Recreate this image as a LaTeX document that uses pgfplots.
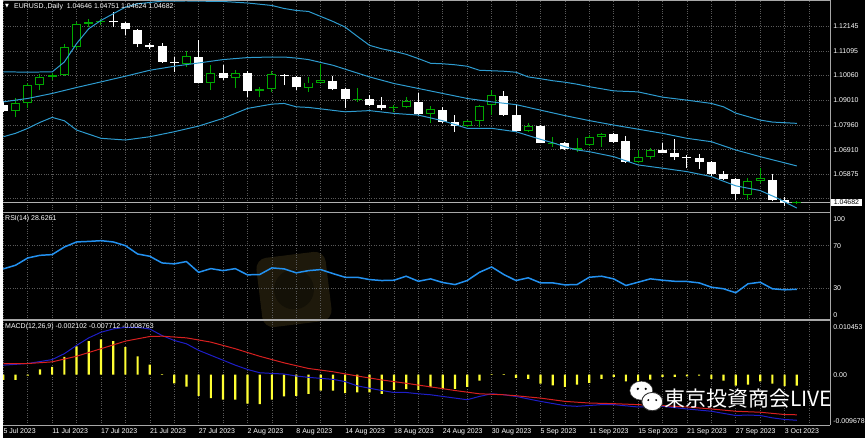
\documentclass[border=0pt]{standalone}
\usepackage{pgfplots}
\pgfplotsset{compat=1.18}
\usepackage{pgfplotstable}
\usepackage{fontspec}
\setmainfont{Liberation Sans}
\newfontfamily\dejavu{DejaVu Sans}
\newfontfamily\cjk{Noto Sans CJK JP}

\definecolor{gridc}{HTML}{5A5A5A}
\definecolor{sepc}{HTML}{A8A8A8}
\definecolor{bullc}{HTML}{00A800}
\definecolor{bandc}{HTML}{2E9CD0}
\definecolor{rsic}{HTML}{2391F0}
\definecolor{macdc}{HTML}{1E1EC8}
\definecolor{sigc}{HTML}{D82020}
\definecolor{histc}{HTML}{FFFF33}
\definecolor{wmc}{HTML}{1E190B}
\definecolor{wmd}{HTML}{141107}

\pgfplotstableread{
i o h l c
1 1.08545 1.09093 1.08292 1.08895
2 1.08895 1.09726 1.08671 1.09642
3 1.09642 1.10106 1.09431 1.09992
4 1.09992 1.10148 1.09853 1.10064
5 1.10064 1.11372 1.10043 1.11258
6 1.11258 1.12313 1.11191 1.12246
7 1.12246 1.12457 1.12102 1.12301
8 1.12301 1.12457 1.12174 1.12356
15 1.10558 1.11090 1.10414 1.10866
17 1.09756 1.10486 1.09431 1.10161
19 1.09967 1.10275 1.09503 1.10178
21 1.09389 1.09570 1.09123 1.09473
22 1.09473 1.10233 1.09359 1.10106
25 1.09528 1.09992 1.09359 1.09756
26 1.09756 1.10558 1.09714 1.09853
29 1.09009 1.09503 1.08937 1.09051
32 1.08659 1.08798 1.08515 1.08701
33 1.08701 1.09148 1.08659 1.08967
35 1.08418 1.08756 1.08026 1.08617
38 1.07925 1.08165 1.07870 1.08136
39 1.08136 1.08798 1.07882 1.08756
40 1.08798 1.09431 1.08376 1.09220
43 1.07714 1.08051 1.07646 1.07912
45 1.07182 1.07460 1.07038 1.07207
47 1.06912 1.07393 1.06827 1.06971
48 1.07110 1.07532 1.07068 1.07460
49 1.07460 1.07629 1.07038 1.07574
52 1.06380 1.06899 1.06338 1.06591
53 1.06591 1.06971 1.06507 1.06899
61 1.05000 1.05705 1.04789 1.05604
62 1.05604 1.06127 1.05506 1.05705
65 1.04646 1.04751 1.04624 1.04682
}\bull

\pgfplotstableread{
i o h l c
0 1.08798 1.08967 1.08503 1.08545
9 1.12356 1.12735 1.12102 1.12301
10 1.12288 1.12313 1.11752 1.12005
11 1.11993 1.12035 1.11258 1.11372
12 1.11360 1.11444 1.11191 1.11258
13 1.11288 1.11444 1.10600 1.10625
14 1.10625 1.10836 1.10203 1.10583
16 1.10836 1.11541 1.09714 1.09756
18 1.10161 1.10486 1.09853 1.09967
20 1.10178 1.10233 1.09123 1.09402
23 1.10094 1.10136 1.09642 1.10022
24 1.09992 1.10022 1.09431 1.09545
27 1.09824 1.10022 1.09431 1.09473
28 1.09461 1.09515 1.08659 1.09039
30 1.09039 1.09220 1.08756 1.08798
31 1.08798 1.09148 1.08587 1.08659
34 1.08937 1.09292 1.08376 1.08418
36 1.08587 1.08726 1.08026 1.08093
37 1.08068 1.08376 1.07671 1.07925
41 1.09191 1.09389 1.08355 1.08376
42 1.08376 1.08840 1.07671 1.07714
44 1.07912 1.07954 1.07182 1.07207
46 1.07207 1.07237 1.06899 1.06929
50 1.07562 1.07604 1.07182 1.07249
51 1.07279 1.07490 1.06338 1.06380
54 1.06899 1.07182 1.06760 1.06785
55 1.06760 1.07351 1.06477 1.06616
56 1.06616 1.06688 1.06127 1.06574
57 1.06549 1.06730 1.06085 1.06405
58 1.06380 1.06414 1.05747 1.05886
59 1.05886 1.06026 1.05633 1.05675
60 1.05675 1.05696 1.04789 1.05042
63 1.05633 1.05886 1.04717 1.04760
64 1.04760 1.04928 1.04506 1.04646
}\bear

\pgfplotstableread{
i rsi
0 47.95
1 51.4
2 58.3
3 60.8
4 61.5
5 68.7
6 73.5
7 74.0
8 74.7
9 73.5
10 70.0
11 62.1
12 59.9
13 53.6
14 52.7
15 54.9
16 44.7
17 48.2
18 46.3
19 48.2
20 42.3
21 42.6
22 48.9
23 47.95
24 44.2
25 46.3
26 47.3
27 43.5
28 40.0
29 40.0
30 37.8
31 36.9
32 37.2
33 41.0
34 36.2
35 38.5
36 35.0
37 33.1
38 36.9
39 44.7
40 49.8
41 42.6
42 36.9
43 39.5
44 34.7
45 34.7
46 32.8
47 33.1
48 40.0
49 41.0
50 38.5
51 32.2
52 35.3
53 38.5
54 37.2
55 36.2
56 36.0
57 34.7
58 30.6
59 29.1
60 25.3
61 33.8
62 35.3
63 29.1
64 28.1
65 28.63
}\rsi

\pgfplotstableread{
i hist
0 -0.00101
1 -0.00101
2 -0.0002
3 0.00101
4 0.00152
5 0.00342
6 0.00545
7 0.00646
8 0.00678
9 0.00646
10 0.00532
11 0.00355
12 0.00196
13 0.0001
14 -0.00165
15 -0.00228
16 -0.00405
17 -0.0045
18 -0.00481
19 -0.00481
20 -0.00557
21 -0.00564
22 -0.00481
23 -0.00418
24 -0.00405
25 -0.00367
26 -0.00304
27 -0.00304
28 -0.00355
29 -0.00342
30 -0.00342
31 -0.00367
32 -0.00291
33 -0.00279
34 -0.00291
35 -0.00238
36 -0.00272
37 -0.00272
38 -0.00234
39 -0.00114
40 0.00013
41 0.00013
42 -0.00063
43 -0.00082
44 -0.00171
45 -0.00203
46 -0.00234
47 -0.0019
48 -0.00158
49 -0.00082
50 -0.00044
51 -0.00127
52 -0.00127
53 -0.00095
54 -0.00044
55 -0.00044
56 -0.00032
57 -0.00019
58 -0.00082
59 -0.00114
60 -0.00209
61 -0.0019
62 -0.00127
63 -0.00171
64 -0.00222
65 -0.002102
}\hist

\pgfplotsset{
  panel/.style={scale only axis, width=830pt,
    xmin=-0.0245, xmax=67.73,
    axis line style={draw=none}, major tick length=0pt, tick style={draw=none},
    xtick={0,2,...,66}, xticklabels={},
    scaled y ticks=false, scaled x ticks=false,
    grid=major, grid style={gridc, dotted, line width=0.6pt},
    ticklabel style={font=\fontsize{7}{8}\selectfont, text=white},
    yticklabel pos=right,
    yticklabel style={anchor=west, inner sep=0pt, xshift=3pt},
  },
  wick/.style={draw=none, mark=none, forget plot,
    error bars/.cd, y dir=plus, y explicit, error mark=none,
    error bar style={draw=#1, line width=1pt}},
  body/.style 2 args={draw=none, mark=none, forget plot,
    error bars/.cd, y dir=plus, y explicit, error mark=none,
    error bar style={draw=#1, line width=#2}},
}

\begin{document}
\begin{tikzpicture}[x=1pt,y=1pt]
\fill[black] (0,0) rectangle (865,439);
\begin{scope}[rotate around={7:(292,149)}]
\fill[wmc, rounded corners=11pt] (257,114) rectangle (327,184);
\fill[wmd] (292,149) circle (20);
\end{scope}

% ---------------- main price panel ----------------
\begin{axis}[panel, at={(0pt,226.5pt)}, anchor=south west, height=212.5pt, ymin=1.042615, ymax=1.13229,
  ytick={1.04835,1.05875,1.06910,1.07960,1.09010,1.10060,1.11095,1.12145},
  yticklabels={,1.05875,1.06910,1.07960,1.09010,1.10060,1.11095,1.12145},
  extra y ticks={1.04682}, extra y tick labels={1.04682},
  extra y tick style={grid=none, yticklabel style={fill=white, text=black, inner xsep=2.5pt, inner ysep=1.2pt, xshift=-2pt}}]
\addplot[gray!60, line width=0.6pt, forget plot] coordinates {(-1,1.04682) (70,1.04682)};
% wicks
\addplot[wick=bullc] table[x=i, y=l, y error expr=\thisrow{h}-\thisrow{l}] {\bull};
\addplot[wick=white] table[x=i, y=l, y error expr=\thisrow{h}-\thisrow{l}] {\bear};
% bodies
\addplot[body={bullc}{9pt}] table[x=i, y=o, y error expr=\thisrow{c}-\thisrow{o}] {\bull};
\addplot[body={black}{7pt}] table[x=i, y expr=\thisrow{o}+0.00042, y error expr={max(\thisrow{c}-\thisrow{o}-0.00084,0)}] {\bull};
\addplot[body={white}{9pt}] table[x=i, y=c, y error expr=\thisrow{o}-\thisrow{c}] {\bear};
% Bollinger bands
\addplot[bandc, line width=1pt, forget plot] coordinates {
(0,1.10203) (2,1.10199) (4,1.10203) (5,1.10625) (6,1.11402) (7,1.12035) (8,1.12385) (9,1.12668) (10,1.12946) (11,1.13090) (13,1.13200) (15,1.13208) (18,1.13187) (20,1.13124) (22,1.13018) (23,1.12891) (24,1.12807) (25,1.12765) (26,1.12554) (27,1.12343) (28,1.12102) (29,1.11710) (30,1.11330) (31,1.11182) (32,1.11077) (33,1.10950) (34,1.10769) (35,1.10570) (36,1.10549) (37,1.10507) (38,1.10444) (39,1.10275) (40,1.10254) (41,1.10233) (42,1.10191) (43,1.09992) (44,1.09916) (45,1.09832) (46,1.09769) (47,1.09684) (48,1.09579) (50,1.09402) (52,1.09359) (54,1.09136) (56,1.09009) (58,1.08870) (59,1.08726) (60,1.08460) (62,1.08165) (63,1.08081) (65,1.08026)};
\addplot[bandc, line width=1pt, forget plot] coordinates {
(0,1.08937) (2,1.09081) (4,1.09292) (6,1.09545) (8,1.09782) (10,1.10022) (12,1.10275) (14,1.10444) (16,1.10583) (18,1.10727) (20,1.10811) (22,1.10836) (23,1.10836) (24,1.10790) (25,1.10727) (27,1.10486) (30,1.09992) (32,1.09714) (34,1.09503) (36,1.09292) (38,1.09081) (39,1.09009) (40,1.08937) (42,1.08819) (44,1.08587) (46,1.08355) (48,1.08143) (50,1.07954) (54,1.07604) (56,1.07393) (58,1.07249) (60,1.06899) (62,1.06616) (65,1.06224)};
\addplot[bandc, line width=1pt, forget plot] coordinates {
(0,1.07460) (1,1.07604) (2,1.07815) (3,1.08068) (4,1.08279) (5,1.08136) (6,1.07743) (8,1.07393) (10,1.07321) (12,1.07460) (14,1.07671) (16,1.07912) (18,1.08237) (20,1.08659) (22,1.08840) (23,1.08870) (24,1.08726) (25,1.08701) (28,1.08515) (30,1.08566) (32,1.08448) (34,1.08376) (36,1.08136) (38,1.07815) (40,1.07815) (42,1.07671) (44,1.07351) (45,1.07207) (46,1.07038) (47,1.06899) (48,1.06827) (50,1.06616) (52,1.06266) (54,1.06127) (56,1.05983) (58,1.05772) (60,1.05380) (62,1.05182) (63.4,1.04861) (65,1.04439)};
\end{axis}

% ---------------- RSI panel ----------------
\begin{axis}[panel, at={(0pt,118.5pt)}, anchor=south west, height=107pt, ymin=-0.4, ymax=100.7,
  ytick={30,70}, yticklabels={30,70}]
\addplot[rsic, line width=1.5pt] table[x=i, y=rsi] {\rsi};
\end{axis}

% ---------------- MACD panel ----------------
\begin{axis}[panel, at={(0pt,13pt)}, anchor=south west, height=105pt, ymin=-0.009678, ymax=0.010453,
  ytick={0}, yticklabels={0.00}, ymajorgrids=false,
  xticklabels={5 Jul 2023,,11 Jul 2023,,17 Jul 2023,,21 Jul 2023,,27 Jul 2023,,2 Aug 2023,,8 Aug 2023,,14 Aug 2023,,18 Aug 2023,,24 Aug 2023,,30 Aug 2023,,5 Sep 2023,,11 Sep 2023,,15 Sep 2023,,21 Sep 2023,,27 Sep 2023,,3 Oct 2023,},
  xticklabel style={anchor=north west, inner sep=0pt, yshift=-3.5pt}]
\addplot[ybar, bar width=2.2pt, fill=histc, draw=none] table[x=i, y=hist] {\hist};
\addplot[macdc, line width=1pt] coordinates {
(0,0.00184) (2,0.00215) (4,0.00291) (5,0.00405) (6,0.00564) (7,0.00709) (8,0.00817) (9,0.0088) (10,0.00912) (11,0.00912) (12,0.0088) (13,0.00754) (14,0.00659) (15,0.00595) (16,0.00469) (17,0.00374) (18,0.00279) (19,0.00184) (20,0.00101) (21,0.00038) (22,0.00025) (23,0.00013) (24,-0.00025) (25,-0.00051) (26,-0.0007) (27,-0.00089) (28,-0.00133) (29,-0.00215) (30,-0.0026) (31,-0.00304) (32,-0.00342) (33,-0.00342) (34,-0.00367) (35,-0.00386) (36,-0.00418) (37,-0.0045) (38,-0.00481) (39,-0.00418) (40,-0.00367) (41,-0.00386) (42,-0.00418) (44,-0.00513) (46,-0.00595) (47,-0.00608) (49,-0.00576) (50,-0.00576) (52,-0.00621) (54,-0.00608) (56,-0.00659) (58,-0.00703) (60,-0.00785) (61,-0.00775) (62,-0.00785) (63,-0.0083) (64,-0.00861) (65,-0.008763)};
\addplot[sigc, line width=1pt] coordinates {
(0,0.00215) (2,0.00215) (4,0.00247) (6,0.00355) (8,0.005) (10,0.00646) (12,0.00735) (13,0.00741) (15,0.00709) (17,0.00627) (19,0.005) (21,0.00355) (23,0.00228) (25,0.0012) (27,0.00057) (29,-0.00025) (31,-0.00101) (33,-0.00165) (35,-0.00234) (37,-0.00304) (39,-0.00367) (41,-0.00386) (42,-0.00405) (44,-0.0045) (46,-0.00513) (48,-0.00545) (50,-0.00557) (52,-0.00576) (54,-0.00595) (56,-0.00621) (58,-0.00659) (60,-0.00703) (62,-0.00722) (64,-0.00766) (65,-0.007712)};
\end{axis}

% separators and frame
\draw[sepc, line width=1.2pt] (0,226) -- (830,226);
\draw[sepc, line width=1.2pt] (0,118.3) -- (830,118.3);
\draw[sepc, line width=1pt] (0,13) -- (830,13);
\draw[sepc, line width=1pt] (830,13) -- (830,439);
\draw[sepc, line width=0.8pt] (0,438.6) -- (830,438.6);

% header texts
\node[anchor=west, inner sep=0pt, text=white, font=\dejavu\fontsize{5}{6}\selectfont] at (2,433) {▼};
\node[anchor=west, inner sep=0pt, text=white, font=\fontsize{7}{8}\selectfont] at (11,433) {EURUSD.,Daily\ \ 1.04646 1.04751 1.04624 1.04682};
\node[anchor=west, inner sep=0pt, text=white, font=\fontsize{7}{8}\selectfont] at (2,220) {RSI(14) 28.6261};
\node[anchor=west, inner sep=0pt, text=white, font=\fontsize{7}{8}\selectfont] at (2,112) {MACD(12,26,9) -0.002102 -0.007712 -0.008763};
% fixed scale labels
\node[anchor=west, inner sep=0pt, text=white, font=\fontsize{7}{8}\selectfont] at (833,220) {100};
\node[anchor=west, inner sep=0pt, text=white, font=\fontsize{7}{8}\selectfont] at (833,123) {0};
\node[anchor=west, inner sep=0pt, text=white, font=\fontsize{7}{8}\selectfont] at (833,111) {0.010453};
\node[anchor=west, inner sep=0pt, text=white, font=\fontsize{7}{8}\selectfont] at (833,17) {-0.009678};

% WeChat badge and caption
\filldraw[fill=white, draw=black!80, line width=0.5pt] (640.5,47.5) ellipse (11.5 and 9.5);
\fill[black] (637,49.3) circle (1.3);
\fill[black] (645,49.3) circle (1.3);
\filldraw[fill=white, draw=black!80, line width=0.9pt] (651.5,36.5) ellipse (10.5 and 9.2);
\fill[black] (647.5,38) circle (1.1);
\fill[black] (655.5,38) circle (1.1);
\node[anchor=west, inner sep=0pt, text=white, font=\cjk\fontsize{21}{24}\selectfont] at (664,40) {東京投資商会LIVE};
\end{tikzpicture}
\end{document}
